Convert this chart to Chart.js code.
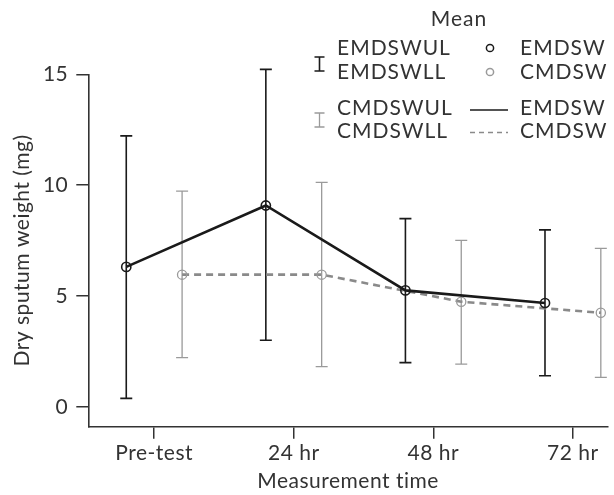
<!DOCTYPE html>
<html>
<head>
<meta charset="utf-8">
<script src="https://cdn.jsdelivr.net/npm/chart.js@4"></script>
<style>
  body { margin: 0; background: #fff; }
</style>
</head>
<body>
<canvas id="sputum" width="614" height="495"></canvas>
<script>
const timeLabels = ["Pre-test", "24 hr", "48 hr", "72 hr"];
const yTicks = [0, 5, 10, 15];

// experimental group
const emdswMean = [6.31, 9.08, 5.25, 4.68];
const emdswUL = [12.22, 15.22, 8.49, 7.98];
const emdswLL = [0.38, 3.0, 1.99, 1.40];

// control group
const cmdswMean = [5.96, 5.96, 4.74, 4.24];
const cmdswUL = [9.73, 10.12, 7.51, 7.15];
const cmdswLL = [2.22, 1.81, 1.92, 1.33];

const dodge = 0.2;
const black = "#1a1a1a";
const gray = "#8a8a8a";
const barGray = "#9a9a9a";
const textColor = "#333";
const fontFamily = "Lato, 'Open Sans', sans-serif";

function pts(vals, off) {
  return vals.map((v, i) => ({ x: i + off, y: v }));
}

const groups = [
  { lo: emdswLL, hi: emdswUL, off: -dodge, color: black, width: 1.6 },
  { lo: cmdswLL, hi: cmdswUL, off: dodge, color: barGray, width: 1.3 },
];

// a bit of letter spacing, the original font runs wide
const spacing = {
  id: "spacing",
  beforeLayout(chart) { chart.ctx.letterSpacing = "0.5px"; },
  beforeDraw(chart) { chart.ctx.letterSpacing = "0.5px"; },
};

const errorBars = {
  id: "errorBars",
  beforeDatasetsDraw(chart) {
    const ctx = chart.ctx;
    const xs = chart.scales.x, ys = chart.scales.y;
    ctx.save();
    groups.forEach(g => {
      ctx.strokeStyle = g.color;
      ctx.lineWidth = g.width;
      g.lo.forEach((lo, i) => {
        const x = xs.getPixelForValue(i + g.off);
        const y1 = ys.getPixelForValue(lo);
        const y2 = ys.getPixelForValue(g.hi[i]);
        ctx.beginPath();
        ctx.moveTo(x, y1); ctx.lineTo(x, y2);
        ctx.moveTo(x - 6, y1); ctx.lineTo(x + 6, y1);
        ctx.moveTo(x - 6, y2); ctx.lineTo(x + 6, y2);
        ctx.stroke();
      });
    });
    ctx.restore();
  }
};

const legendBox = {
  id: "legendBox",
  afterDraw(chart) {
    const ctx = chart.ctx;
    ctx.save();
    ctx.letterSpacing = "1px";
    ctx.font = "21px " + fontFamily;
    ctx.fillStyle = textColor;
    ctx.textBaseline = "alphabetic";
    ctx.textAlign = "center";
    ctx.fillText("Mean", 459, 26);
    ctx.textAlign = "left";
    ctx.fillText("EMDSWUL", 337, 55);
    ctx.fillText("EMDSWLL", 337, 79);
    ctx.fillText("CMDSWUL", 337, 115);
    ctx.fillText("CMDSWLL", 337, 138);
    ctx.fillText("EMDSW", 520, 55);
    ctx.fillText("CMDSW", 520, 79);
    ctx.fillText("EMDSW", 520, 115);
    ctx.fillText("CMDSW", 520, 138);

    // error bar keys
    [[319.5, 57, 71, black, 1.6], [319.5, 113, 127, barGray, 1.3]].forEach(([x, t, b, c, w]) => {
      ctx.strokeStyle = c; ctx.lineWidth = w;
      ctx.beginPath();
      ctx.moveTo(x, t); ctx.lineTo(x, b);
      ctx.moveTo(x - 5, t); ctx.lineTo(x + 5, t);
      ctx.moveTo(x - 5, b); ctx.lineTo(x + 5, b);
      ctx.stroke();
    });

    // point keys
    ctx.lineWidth = 1.5;
    ctx.strokeStyle = black;
    ctx.beginPath(); ctx.arc(490, 48, 3.6, 0, Math.PI * 2); ctx.stroke();
    ctx.strokeStyle = barGray;
    ctx.beginPath(); ctx.arc(490, 72, 3.6, 0, Math.PI * 2); ctx.stroke();

    // line keys
    ctx.lineWidth = 1.5;
    ctx.strokeStyle = black;
    ctx.beginPath(); ctx.moveTo(470, 110); ctx.lineTo(508, 110); ctx.stroke();
    ctx.strokeStyle = gray;
    ctx.setLineDash([5, 4]);
    ctx.beginPath(); ctx.moveTo(470, 132.5); ctx.lineTo(508, 132.5); ctx.stroke();
    ctx.restore();
  }
};

const config = {
  type: "line",
  data: {
    datasets: [
      {
        label: "EMDSW",
        data: pts(emdswMean, -dodge),
        borderColor: black,
        borderWidth: 2.6,
        pointRadius: 4.6,
        pointBorderWidth: 1.6,
        pointBorderColor: black,
        pointBackgroundColor: "rgba(0,0,0,0)",
        tension: 0,
      },
      {
        label: "CMDSW",
        data: pts(cmdswMean, dodge),
        borderColor: gray,
        borderWidth: 2.6,
        borderDash: [7, 5],
        pointRadius: 4.6,
        pointBorderWidth: 1.3,
        pointBorderColor: barGray,
        pointBackgroundColor: "rgba(0,0,0,0)",
        tension: 0,
      },
    ],
  },
  options: {
    responsive: false,
    animation: false,
    layout: { padding: { top: 74.3, right: 2, left: 0, bottom: 0 } },
    plugins: {
      legend: { display: false },
      tooltip: { enabled: false },
    },
    scales: {
      x: {
        type: "linear",
        min: -0.472,
        max: 3.25,
        afterBuildTicks: s => { s.ticks = timeLabels.map((_, i) => ({ value: i })); },
        afterFit: s => { s.height = 68.3; },
        ticks: {
          callback: v => timeLabels[v],
          color: textColor,
          font: { family: fontFamily, size: 21 },
          padding: 2,
          maxRotation: 0,
        },
        grid: { drawOnChartArea: false, drawTicks: true, tickLength: 12, color: textColor, lineWidth: 1.5 },
        border: { display: true, color: textColor, width: 1.6 },
        title: {
          display: true,
          text: "Measurement time",
          color: textColor,
          font: { family: fontFamily, size: 21 },
          padding: { top: 0, bottom: 1 },
        },
      },
      y: {
        min: -0.9,
        max: 15,
        afterBuildTicks: s => { s.ticks = yTicks.map(v => ({ value: v })); },
        afterFit: s => { s.width = 88.3; },
        ticks: {
          color: textColor,
          font: { family: fontFamily, size: 21 },
          padding: 8,
        },
        grid: { drawOnChartArea: false, drawTicks: true, tickLength: 12, color: textColor, lineWidth: 1.5 },
        border: { display: true, color: textColor, width: 1.6 },
        title: {
          display: true,
          text: "Dry sputum weight (mg)",
          color: textColor,
          font: { family: fontFamily, size: 21 },
          padding: { top: 10, bottom: 0 },
        },
      },
    },
  },
  plugins: [spacing, errorBars, legendBox],
};

const myChart = new Chart(document.getElementById("sputum"), config);
</script>
</body>
</html>
